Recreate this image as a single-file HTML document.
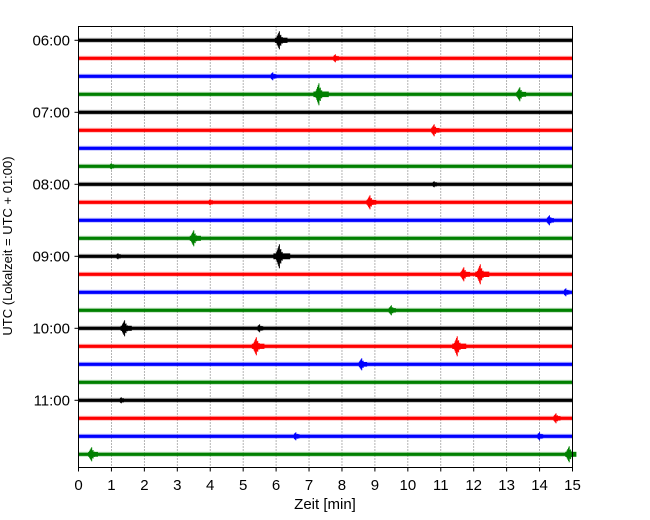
<!DOCTYPE html>
<html><head><meta charset="utf-8"><style>
body{margin:0;background:#fff;}
svg{display:block;font-family:"Liberation Sans","DejaVu Sans",sans-serif;}
</style></head><body>
<svg id="chart" width="650" height="520">
<g id="grid"></g>
<g id="traces"></g>
<rect x="78.5" y="26.5" width="494" height="441" fill="none" stroke="#000" stroke-width="1"/>
<g id="xticks"></g>
<g id="yticks"></g>
<text x="325" y="509" font-size="15" text-anchor="middle">Zeit  [min]</text>
<text transform="translate(12,246) rotate(-90)" font-size="13" text-anchor="middle">UTC (Lokalzeit = UTC + 01:00)</text>
</svg>
<script>
const xTicks=[0,1,2,3,4,5,6,7,8,9,10,11,12,13,14,15];
const yTickLabels=["06:00","07:00","08:00","09:00","10:00","11:00"];
const rowColors=["#000","#f00","#00f","#008000"];
const rowCount=24;
const eventRows=[0,1,2,3,3,5,7,8,9,9,10,11,12,12,13,13,14,15,16,16,17,17,18,20,21,22,22,23,23];
const eventMinutes=[6.1,7.8,5.9,7.3,13.4,10.8,1.0,10.8,8.85,4.0,14.3,3.5,6.1,1.2,11.7,12.2,14.8,9.5,1.4,5.5,5.4,11.5,8.6,1.3,14.5,6.6,14.0,0.4,14.9];
const eventAmps=[9,4,4,11,7,6,3,3,7,3,5,8,12,3,7,10,4,5,8,4,9,10,6,3,5,4,4,7,8];
const NS="http://www.w3.org/2000/svg";
const x=m=>78.5+m*(494/15);
const y=r=>40.3+r*18;
function mk(t,a,p){const e=document.createElementNS(NS,t);for(const k in a)e.setAttribute(k,a[k]);p.appendChild(e);return e;}
const grid=document.getElementById('grid'),xt=document.getElementById('xticks'),yt=document.getElementById('yticks'),tr=document.getElementById('traces');
xTicks.forEach(m=>{
 if(m>0&&m<15){const l=mk('line',{x1:x(m),x2:x(m),y1:26.5,y2:467.5,stroke:'#444','stroke-width':0.8,'stroke-dasharray':'1,2'},grid);
 
 }
 mk('line',{x1:x(m),x2:x(m),y1:467.5,y2:471.5,stroke:'#000'},xt);
 const t=mk('text',{x:x(m),y:490,'font-size':15,'text-anchor':'middle'},xt);t.textContent=m;
 
 
});
yTickLabels.forEach((s,i)=>{
 const yy=y(i*4);
 mk('line',{x1:74.5,x2:78.5,y1:yy,y2:yy,stroke:'#000'},yt);
 const t=mk('text',{x:70,y:yy+5,'font-size':15,'text-anchor':'end'},yt);t.textContent=s;
 
 
});
for(let r=0;r<rowCount;r++){
 const c=rowColors[r%4];
 mk('line',{x1:x(0),x2:x(15),y1:y(r),y2:y(r),stroke:c,'stroke-width':5,'stroke-opacity':0.25},tr);
 const l=mk('line',{x1:x(0),x2:x(15),y1:y(r),y2:y(r),stroke:c,'stroke-width':3.2},tr);
 
 
}
eventRows.forEach((r,i)=>{
 const c=rowColors[r%4],cx=x(eventMinutes[i]),a=eventAmps[i],yy=y(r);
 const g=mk('g',{},tr);
 
 
 for(let k=-5;k<=12;k++){
  const amp=k<0?a*(1+k/6):a*Math.exp(-k/4)*(k%2?0.7:1);
  if(amp<2.2)continue;
  mk('line',{x1:cx+k*0.7,x2:cx+k*0.7,y1:yy-amp,y2:yy+amp,stroke:c,'stroke-width':1},g);
 }
 mk('line',{x1:cx-a*0.5,x2:cx+a*0.9,y1:yy,y2:yy,stroke:c,'stroke-width':Math.min(6,3.4+a*0.2)},g);
});
</script>
</body></html>
